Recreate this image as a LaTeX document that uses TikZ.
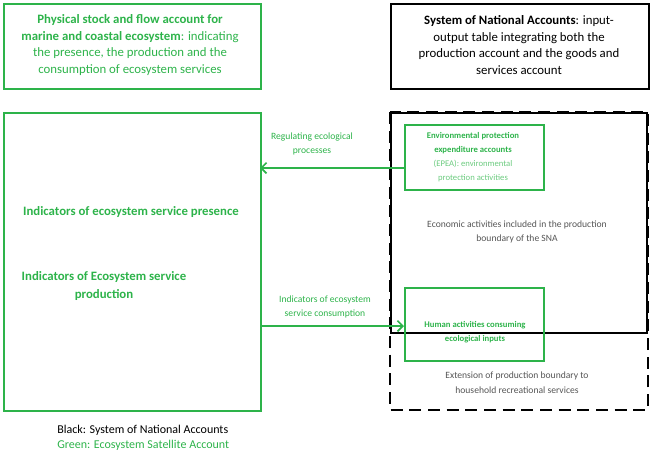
\documentclass[tikz,border=0pt]{standalone}
\usepackage{fontspec}
\setmainfont{Carlito}
\usetikzlibrary{arrows.meta}
\definecolor{eg}{HTML}{2DB34A}
\definecolor{lg}{HTML}{6CCB7F}
\definecolor{gt}{HTML}{555555}
\begin{document}
\begin{tikzpicture}[x=0.75pt,y=-0.75pt,
  gbox/.style={draw=eg,line width=1.4pt,anchor=north west,inner sep=0},
  bbox/.style={draw=black,line width=1.4pt,anchor=north west,inner sep=0},
  big/.style={font=\fontsize{9.6}{12.6}\selectfont,align=center},
  lab/.style={font=\fontsize{7.2}{11}\selectfont,align=center},
  small/.style={font=\fontsize{6.5}{10.5}\selectfont,align=center},
  arr/.style={draw=eg,line width=1.3pt,-{Straight Barb[length=4pt]}}]
\useasboundingbox (0,0) rectangle (650,457);
\node[gbox,minimum width=192.75pt,minimum height=63.75pt] (tl) at (3,3) {};
\node[bbox,minimum width=193.5pt,minimum height=63.75pt] (tr) at (390,3) {};
\node[big,text=eg] at (130,45) {\textbf{Physical stock and flow account for}\\\textbf{marine and coastal ecosystem}: indicating\\the presence, the production and the\\consumption of ecosystem services};
\node[big] at (519,45) {\textbf{System of National Accounts}: input-\\output table integrating both the\\production account and the goods and\\services account};
\node[gbox,minimum width=192.75pt,minimum height=223.5pt] (lb) at (3,112) {};
\draw[line width=1.4pt,dash pattern=on 9pt off 5pt] (390,112) rectangle (648,410);
\node[bbox,minimum width=192pt,minimum height=165pt] (sna) at (390,112) {};
\node[gbox,minimum width=104.25pt,minimum height=48.75pt] (epea) at (404,124) {};
\node[gbox,minimum width=104.25pt,minimum height=54.75pt] (hum) at (404,287) {};
\node[small,text=eg] at (473,157) {\textbf{Environmental protection}\\\textbf{expenditure accounts}\\\textcolor{lg}{(EPEA): environmental}\\\textcolor{lg}{protection activities}};
\node[small,text=eg] at (475,332) {\textbf{Human activities consuming}\\\textbf{ecological inputs}};
\node[lab,text=gt] at (517,232) {Economic activities included in the production\\boundary of the SNA};
\node[lab,text=gt] at (517,383) {Extension of production boundary to\\household recreational services};
\node[lab,text=eg] at (312,144) {Regulating ecological\\processes};
\node[lab,text=eg] at (325,307) {Indicators of ecosystem\\service consumption};
\node[big,text=eg,font=\bfseries\fontsize{9.6}{12.6}\selectfont] at (131,212) {Indicators of ecosystem service presence};
\node[big,text=eg,font=\bfseries\fontsize{9.6}{14}\selectfont] at (104,286) {Indicators of Ecosystem service\\production};
\coordinate (a1) at (404,168);
\coordinate (a2) at (260,168);
\coordinate (b1) at (260,326);
\coordinate (b2) at (404,326);
\draw[arr] (a1) -- (a2);
\draw[arr] (b1) -- (b2);
\node[anchor=west,align=left,font=\fontsize{9}{11.3}\selectfont,inner sep=0] at (57,438) {Black: System of National Accounts\\\textcolor{eg}{Green: Ecosystem Satellite Account}};
\end{tikzpicture}
\end{document}
